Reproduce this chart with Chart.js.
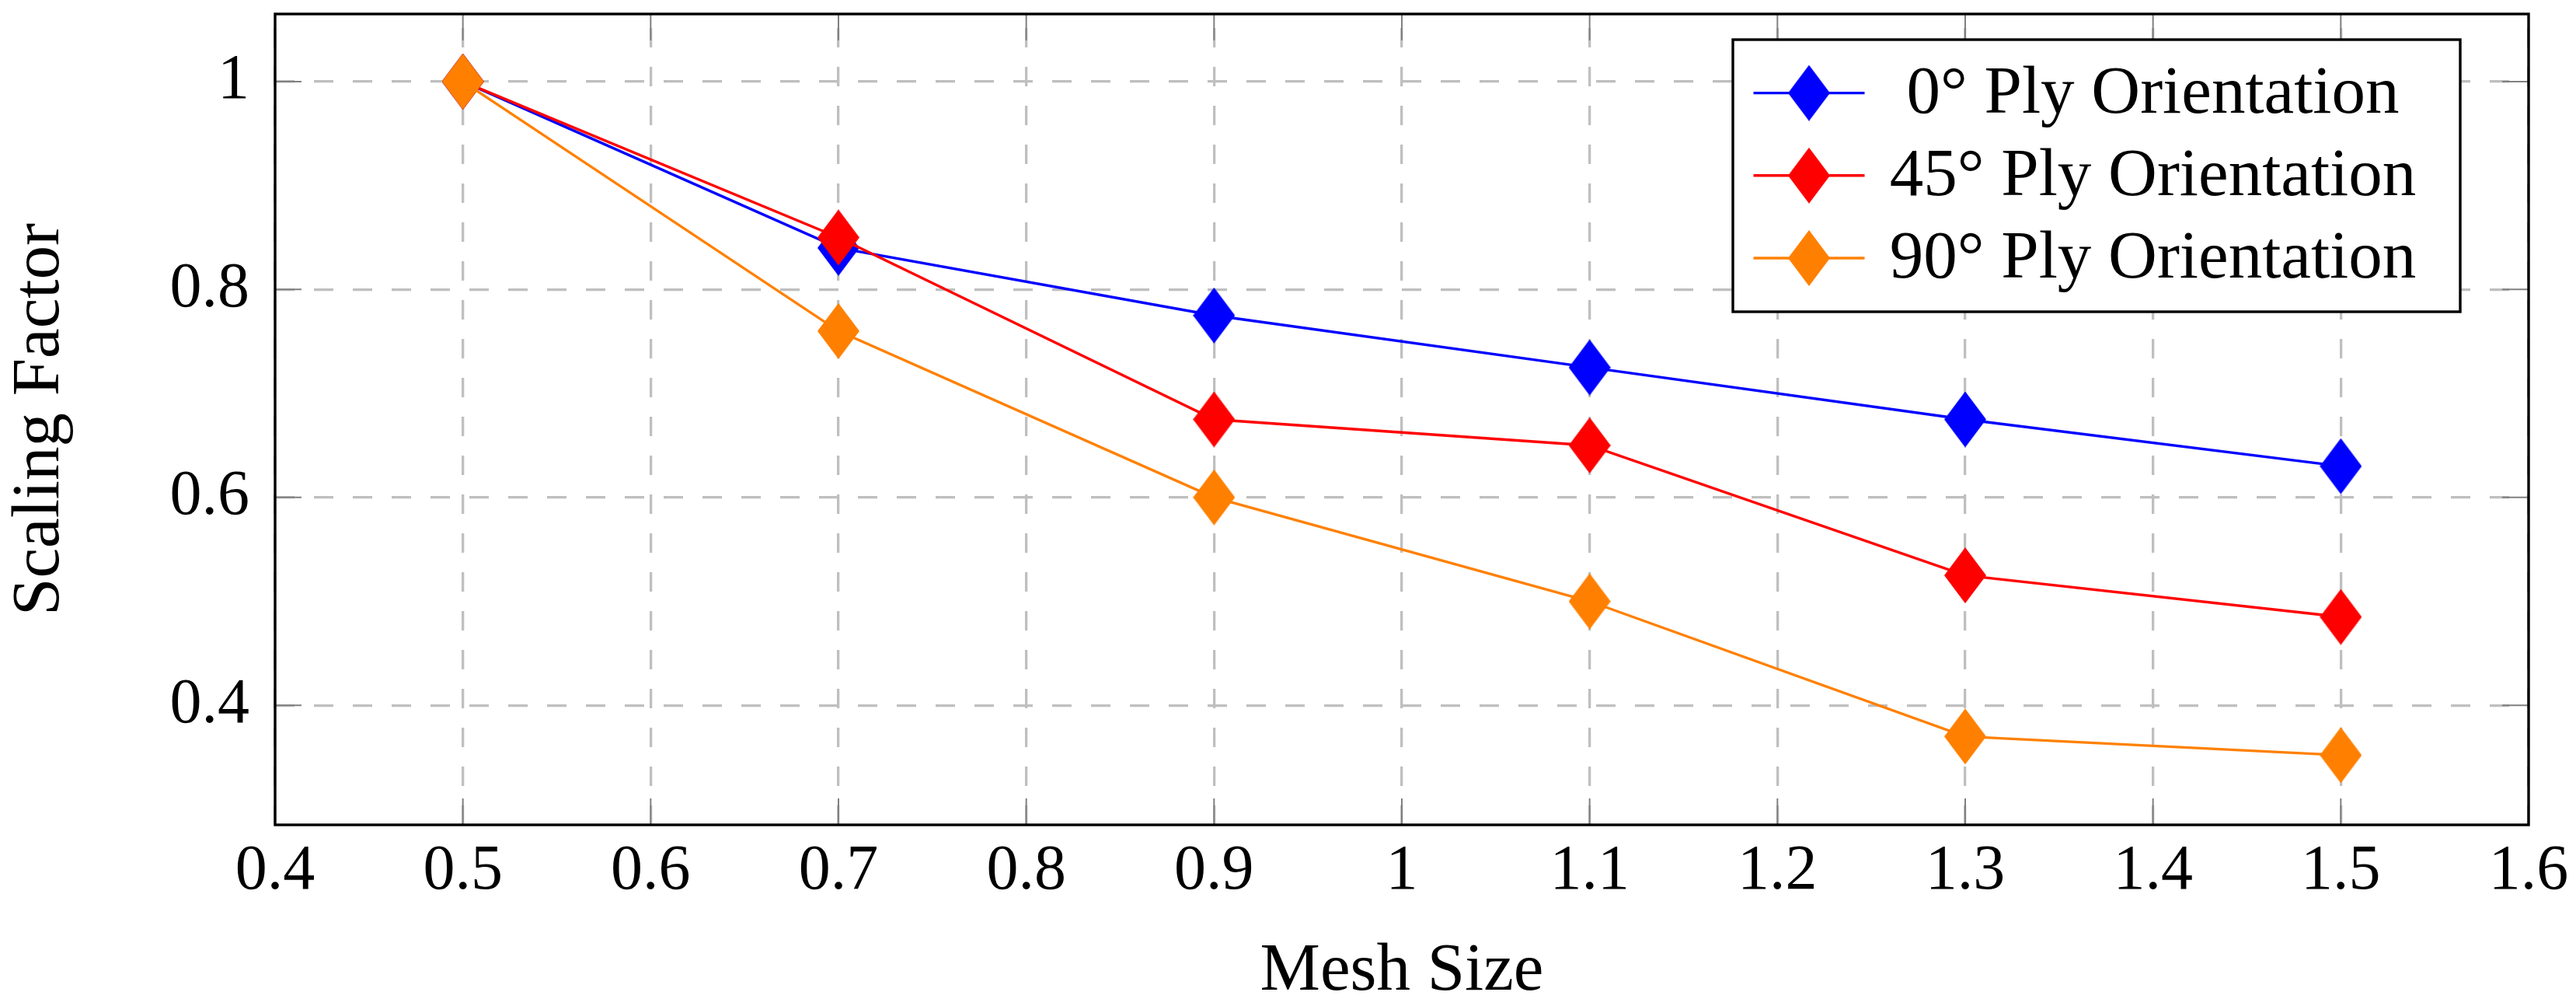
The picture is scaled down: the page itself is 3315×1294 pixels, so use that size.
<!DOCTYPE html>
<html>
<head>
<meta charset="utf-8">
<title>Scaling Factor vs Mesh Size</title>
<script src="https://cdn.jsdelivr.net/npm/chart.js@4.4.1/dist/chart.umd.min.js"></script>
<style>
  html, body { margin: 0; padding: 0; background: #fff; }
  #wrap { width: 3315px; height: 1294px; position: relative; }
</style>
</head>
<body>
<div id="wrap"><canvas id="chart"></canvas></div>
<script>
// Data
const meshSize = [0.5, 0.7, 0.9, 1.1, 1.3, 1.5];
const ply0 = [1.0, 0.84, 0.775, 0.725, 0.675, 0.63];
const ply45 = [1.0, 0.85, 0.675, 0.65, 0.525, 0.485];
const ply90 = [1.0, 0.76, 0.6, 0.5, 0.37, 0.352];
const seriesLabels = ['0\u00B0 Ply Orientation', '45\u00B0 Ply Orientation', '90\u00B0 Ply Orientation'];
const seriesColors = ['#0000ff', '#ff0000', '#ff8000'];
const xTickValues = [0.4, 0.5, 0.6, 0.7, 0.8, 0.9, 1.0, 1.1, 1.2, 1.3, 1.4, 1.5, 1.6];
const yTickValues = [0.4, 0.6, 0.8, 1.0];

const FONT = "'Liberation Serif', 'Times New Roman', serif";
const TICK_LEN = 34;

// pgfplots-style diamond marker (taller than wide)
const makeDiamond = (color) => {
    const c = document.createElement('canvas');
    c.width = 54;
    c.height = 72;
    const g = c.getContext('2d');
    g.fillStyle = color;
    g.beginPath();
    g.moveTo(27, 0);
    g.lineTo(54, 36);
    g.lineTo(27, 72);
    g.lineTo(0, 36);
    g.closePath();
    g.fill();
    return c;
};

const toPoints = (ys) => meshSize.map((x, i) => ({ x, y: ys[i] }));

const makeDataset = (label, values, color, order) => ({
    label,
    data: toPoints(values),
    borderColor: color,
    backgroundColor: color,
    borderWidth: 3.4,
    tension: 0,
    pointStyle: makeDiamond(color),
    pointRadius: 27,
    order
});

// Box frame + inward ticks on all four sides
const axisFrame = {
    id: 'axisFrame',
    afterDraw(chart) {
        const { ctx, chartArea: a, scales } = chart;
        ctx.save();
        ctx.strokeStyle = '#808080';
        ctx.lineWidth = 2;
        ctx.beginPath();
        scales.x.ticks.forEach(t => {
            const px = scales.x.getPixelForValue(t.value);
            ctx.moveTo(px, a.bottom);
            ctx.lineTo(px, a.bottom - TICK_LEN);
            ctx.moveTo(px, a.top);
            ctx.lineTo(px, a.top + TICK_LEN);
        });
        scales.y.ticks.forEach(t => {
            const py = scales.y.getPixelForValue(t.value);
            ctx.moveTo(a.left, py);
            ctx.lineTo(a.left + TICK_LEN, py);
            ctx.moveTo(a.right, py);
            ctx.lineTo(a.right - TICK_LEN, py);
        });
        ctx.stroke();
        ctx.strokeStyle = '#000';
        ctx.lineWidth = 3.4;
        ctx.strokeRect(a.left, a.top, a.width, a.height);
        ctx.restore();
    }
};

// Boxed legend inside the top-right corner
const boxedLegend = {
    id: 'boxedLegend',
    afterDraw(chart) {
        const { ctx, chartArea: a } = chart;
        const w = 936, h = 350, rowH = 106.2;
        const left = a.right - 88 - w;
        const top = a.top + 33;
        ctx.save();
        ctx.fillStyle = '#fff';
        ctx.fillRect(left, top, w, h);
        ctx.strokeStyle = '#000';
        ctx.lineWidth = 3.4;
        ctx.strokeRect(left, top, w, h);
        ctx.font = '87px ' + FONT;
        ctx.textAlign = 'center';
        ctx.textBaseline = 'alphabetic';
        chart.data.datasets.forEach((ds, i) => {
            const cy = top + 68.6 + i * rowH;
            ctx.strokeStyle = ds.borderColor;
            ctx.lineWidth = ds.borderWidth;
            ctx.beginPath();
            ctx.moveTo(left + 26.5, cy);
            ctx.lineTo(left + 169.5, cy);
            ctx.stroke();
            const img = ds.pointStyle;
            ctx.drawImage(img, left + 98 - img.width / 2, cy - img.height / 2);
            ctx.fillStyle = '#000';
            ctx.fillText(ds.label, left + 540.5, cy + 25);
        });
        ctx.restore();
    }
};

const gridStyle = { color: '#bfbfbf', lineWidth: 3.3, drawTicks: false };

new Chart(document.getElementById('chart'), {
    type: 'line',
    data: {
        datasets: [
            makeDataset(seriesLabels[0], ply0, seriesColors[0], 3),
            makeDataset(seriesLabels[1], ply45, seriesColors[1], 2),
            makeDataset(seriesLabels[2], ply90, seriesColors[2], 1)
        ]
    },
    options: {
        responsive: true,
        maintainAspectRatio: false,
        devicePixelRatio: 1,
        animation: false,
        events: [],
        layout: { autoPadding: false, padding: { top: 18, right: 61, left: 0, bottom: 0 } },
        plugins: {
            legend: { display: false },
            tooltip: { enabled: false }
        },
        scales: {
            x: {
                type: 'linear',
                min: 0.4,
                max: 1.6,
                afterBuildTicks: s => { s.ticks = xTickValues.map(v => ({ value: v })); },
                afterFit: s => {
                    s.height = 233;
                    s.paddingLeft = 0;
                    s.paddingRight = 0;
                },
                grid: gridStyle,
                border: { display: false, dash: [25, 25], dashOffset: 32 },
                ticks: {
                    padding: 11,
                    color: '#000',
                    maxRotation: 0,
                    font: { family: FONT, size: 82 },
                    callback: v => String(+v.toFixed(1))
                },
                title: {
                    display: true,
                    text: 'Mesh Size',
                    color: '#000',
                    font: { family: FONT, size: 87, lineHeight: 1 },
                    padding: { top: 0, bottom: 0 }
                }
            },
            y: {
                type: 'linear',
                min: 0.285,
                max: 1.065,
                afterBuildTicks: s => { s.ticks = yTickValues.map(v => ({ value: v })); },
                afterFit: s => {
                    s.width = 354;
                    s.paddingTop = 0;
                    s.paddingBottom = 0;
                },
                grid: gridStyle,
                border: { display: false, dash: [25, 25] },
                ticks: {
                    padding: 33,
                    color: '#000',
                    font: { family: FONT, size: 82 },
                    callback: v => String(+v.toFixed(1))
                },
                title: {
                    display: true,
                    text: 'Scaling Factor',
                    color: '#000',
                    font: { family: FONT, size: 87, lineHeight: 1 },
                    padding: { top: 9, bottom: 0 }
                }
            }
        }
    },
    plugins: [axisFrame, boxedLegend]
});
</script>
</body>
</html>
